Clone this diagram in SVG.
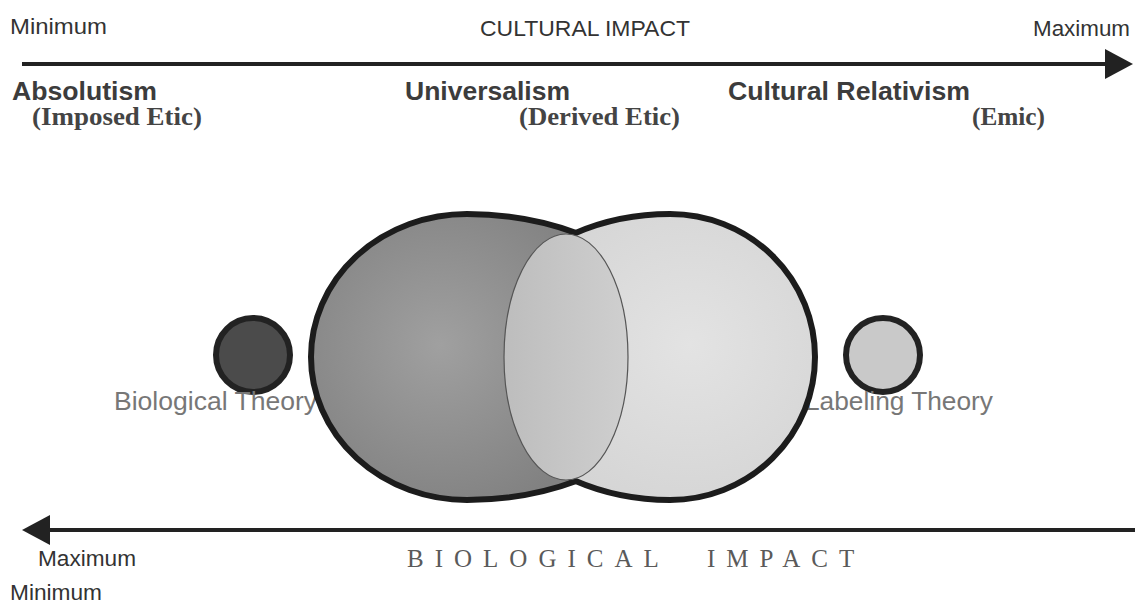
<svg xmlns="http://www.w3.org/2000/svg" width="1135" height="604" viewBox="0 0 1135 604">
<style>
.top{font-family:"Liberation Sans",Arial,sans-serif;font-size:22px;fill:#333}
.pos{font-family:"Liberation Sans",Arial,sans-serif;font-size:25px;font-weight:bold;fill:#3c3c3c}
.par{font-family:"Liberation Serif","Times New Roman",serif;font-size:25px;font-weight:bold;fill:#444}
.theory{font-family:"Liberation Sans",Arial,sans-serif;font-size:25px;fill:#777}
.bio{font-family:"Liberation Serif","Times New Roman",serif;font-size:25px;fill:#5a5a5a;letter-spacing:11px}
.axis{stroke:#222;stroke-width:4;fill:none}
.big{stroke:#1c1c1c;stroke-width:6}
.small{stroke:#222;stroke-width:6}
</style>
<defs>
<marker id="ah" markerUnits="userSpaceOnUse" markerWidth="28" markerHeight="30" viewBox="0 0 28 30" refX="24" refY="15" orient="auto">
<path d="M0,0 L28,15 L0,30 z" fill="#222"/>
</marker>
<radialGradient id="gLeft" gradientUnits="userSpaceOnUse" cx="440" cy="345" r="175">
<stop offset="0" stop-color="#a0a0a0"/>
<stop offset="1" stop-color="#818181"/>
</radialGradient>
<radialGradient id="gRight" gradientUnits="userSpaceOnUse" cx="690" cy="345" r="170">
<stop offset="0" stop-color="#e3e3e3"/>
<stop offset="1" stop-color="#d5d5d5"/>
</radialGradient>
<linearGradient id="gLens" x1="0" y1="0" x2="1" y2="0">
<stop offset="0" stop-color="#bdbdbd"/>
<stop offset="1" stop-color="#cfcfcf"/>
</linearGradient>
</defs>
<rect width="1135" height="604" fill="#fff"/>

<g id="connectors">
<path class="axis" d="M22,64 L1129,64" marker-end="url(#ah)"/>
<path class="axis" d="M1135,530 L26,530" marker-end="url(#ah)"/>
</g>

<g id="cultural-axis-labels">
<text class="top" x="10" y="34" textLength="97" lengthAdjust="spacingAndGlyphs">Minimum</text>
<text class="top" x="480" y="36" textLength="210" lengthAdjust="spacingAndGlyphs">CULTURAL IMPACT</text>
<text class="top" x="1033" y="36" textLength="97" lengthAdjust="spacingAndGlyphs">Maximum</text>
</g>

<g id="absolutism">
<text class="pos" x="12" y="100" textLength="145" lengthAdjust="spacingAndGlyphs">Absolutism</text>
<text class="par" x="32" y="125" textLength="170" lengthAdjust="spacingAndGlyphs">(Imposed Etic)</text>
</g>
<g id="universalism">
<text class="pos" x="405" y="100" textLength="165" lengthAdjust="spacingAndGlyphs">Universalism</text>
<text class="par" x="519" y="125" textLength="161" lengthAdjust="spacingAndGlyphs">(Derived Etic)</text>
</g>
<g id="relativism">
<text class="pos" x="728" y="100" textLength="242" lengthAdjust="spacingAndGlyphs">Cultural Relativism</text>
<text class="par" x="972" y="125" textLength="73" lengthAdjust="spacingAndGlyphs">(Emic)</text>
</g>

<g id="biological-theory">
<circle class="small" cx="253" cy="355" r="37" fill="#4b4b4b"/>
<text class="theory" x="114" y="410" textLength="203" lengthAdjust="spacingAndGlyphs">Biological Theory</text>
</g>
<g id="labeling-theory">
<circle class="small" cx="883" cy="355" r="37" fill="#c9c9c9"/>
<text class="theory" x="805" y="410" textLength="188" lengthAdjust="spacingAndGlyphs">Labeling Theory</text>
</g>

<g id="absolutism-area">
<path class="big" fill="url(#gLeft)" d="M577,233.2 A220,143 0 0 0 467,214 A156,143 0 0 0 311,357 A156,143 0 0 0 467,500 A220,143 0 0 0 577,480.8 A220,143 0 0 0 577,233.2 Z"/>
</g>
<g id="relativism-area">
<path class="big" fill="url(#gRight)" d="M575,233.2 A190,143 0 0 1 670,214 A145,143 0 0 1 815,357 A145,143 0 0 1 670,500 A190,143 0 0 1 575,480.8 A27,124 0 0 1 575,233.2 Z"/>
</g>
<g id="universalism-overlap">
<ellipse cx="566" cy="357" rx="62" ry="123" fill="url(#gLens)" stroke="#555" stroke-width="1.2"/>
</g>

<g id="biological-axis-labels">
<text class="top" x="38" y="566" textLength="98" lengthAdjust="spacingAndGlyphs">Maximum</text>
<text class="top" x="10" y="600" textLength="92" lengthAdjust="spacingAndGlyphs">Minimum</text>
<text class="bio" x="407" y="567">BIOLOGICAL <tspan x="707">IMPACT</tspan></text>
</g>
</svg>
